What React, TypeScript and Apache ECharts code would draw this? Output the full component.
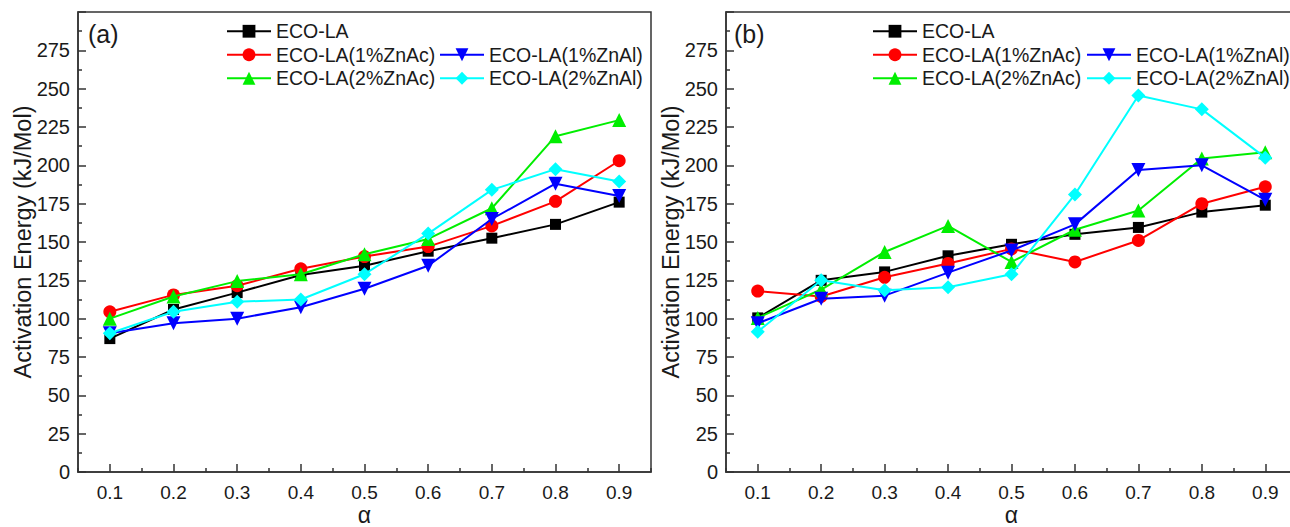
import React, { useEffect, useRef } from "react";
import * as echarts from "echarts";

const categories = ["0.1", "0.2", "0.3", "0.4", "0.5", "0.6", "0.7", "0.8", "0.9"];
const seriesNames = ["ECO-LA", "ECO-LA(1%ZnAc)", "ECO-LA(2%ZnAc)", "ECO-LA(1%ZnAl)", "ECO-LA(2%ZnAl)"];

// Panel (a)
const aEcoLA = [87, 106, 117, 128.5, 134.5, 144, 152.5, 161.5, 176];
const a1ZnAc = [104.5, 115.5, 121.5, 132.5, 140.5, 147, 160.5, 176.5, 203];
const a2ZnAc = [100, 114.5, 124.5, 129, 142, 152, 172, 219, 229.5];
const a1ZnAl = [90.5, 97, 100, 107.5, 119.5, 134.5, 165, 188, 180];
const a2ZnAl = [90.5, 104.5, 111, 112.5, 129, 155.5, 184, 197.5, 189.5];

// Panel (b)
const bEcoLA = [100.5, 125, 130.5, 141, 148.5, 155, 159.5, 169.5, 174];
const b1ZnAc = [118, 114.5, 127, 136, 145.5, 137, 151, 175, 186];
const b2ZnAc = [100.5, 119, 143.5, 160.5, 137, 158, 170.5, 204.5, 208.5];
const b1ZnAl = [97, 113, 115, 130, 144.5, 161.5, 197, 200, 177.5];
const b2ZnAl = [91.5, 125, 118.5, 120.5, 129, 181, 245.5, 236.5, 205];

const colors = ["#000000", "#ff0000", "#00ee00", "#0000ff", "#00ffff"];
const symbols = [
  "rect",
  "circle",
  "triangle",
  "path://M0,0 L10,0 L5,8.7 Z",
  "diamond",
];
const symbolSizes = [11, 13, 14, 14, 14];

const FONT = "'Liberation Sans', Arial, sans-serif";
const AXIS_COLOR = "#333";
const TEXT_COLOR = "#1a1a1a";

export default function App() {
  const ref = useRef<HTMLDivElement>(null);

  useEffect(() => {
    if (!ref.current) return;
    const chart = echarts.init(ref.current, undefined, { renderer: "svg" });

    const grids = [
      { left: 78, top: 12, width: 573, height: 460 },
      { left: 726, top: 12, width: 571, height: 460 },
    ];

    const panelData = [
      [aEcoLA, a1ZnAc, a2ZnAc, a1ZnAl, a2ZnAl],
      [bEcoLA, b1ZnAc, b2ZnAc, b1ZnAl, b2ZnAl],
    ];

    const xAxes: any[] = [];
    const yAxes: any[] = [];
    const series: any[] = [];
    const legends: any[] = [];

    grids.forEach((g, gi) => {
      xAxes.push({
        type: "category",
        gridIndex: gi,
        position: "bottom",
        data: categories,
        boundaryGap: true,
        name: "α",
        nameLocation: "middle",
        nameGap: 31,
        nameMoveOverlap: false,
        nameTextStyle: { fontSize: 23, color: TEXT_COLOR, fontFamily: FONT },
        axisLine: { show: true, lineStyle: { color: AXIS_COLOR, width: 1.5 } },
        axisTick: { show: true, inside: true, alignWithLabel: true, length: 8, lineStyle: { color: AXIS_COLOR, width: 1.5 } },
        axisLabel: { show: true, margin: 11, fontSize: 19, color: TEXT_COLOR, fontFamily: FONT },
        splitLine: { show: false },
      });
      xAxes.push({
        type: "category",
        gridIndex: gi,
        position: "bottom",
        data: categories,
        boundaryGap: true,
        axisLine: { show: false },
        axisTick: { show: true, inside: true, alignWithLabel: false, length: 4, lineStyle: { color: AXIS_COLOR, width: 1.5 } },
        axisLabel: { show: false },
        splitLine: { show: false },
      });
      yAxes.push({
        type: "value",
        gridIndex: gi,
        min: 0,
        max: 300,
        interval: 25,
        name: "Activation Energy (kJ/Mol)",
        nameLocation: "middle",
        nameGap: 43,
        nameMoveOverlap: false,
        nameTextStyle: { fontSize: 23.5, color: TEXT_COLOR, fontFamily: FONT },
        axisLine: { show: true, lineStyle: { color: AXIS_COLOR, width: 1.5 } },
        axisTick: { show: true, inside: true, length: 8, lineStyle: { color: AXIS_COLOR, width: 1.5 } },
        minorTick: { show: true, splitNumber: 2, length: 4, lineStyle: { color: AXIS_COLOR, width: 1.5 } },
        axisLabel: {
          show: true,
          margin: 8,
          fontSize: 20,
          color: TEXT_COLOR,
          fontFamily: FONT,
          formatter: (v: number) => (v >= 300 ? "" : String(v)),
        },
        splitLine: { show: false },
        minorSplitLine: { show: false },
      });

      seriesNames.forEach((name, si) => {
        series.push({
          type: "line",
          name,
          xAxisIndex: gi * 2,
          yAxisIndex: gi,
          data: panelData[gi][si],
          symbol: symbols[si],
          symbolSize: symbolSizes[si],
          showAllSymbol: true,
          lineStyle: { color: colors[si], width: 2 },
          itemStyle: { color: colors[si], borderWidth: 0 },
          z: 2 + si,
        });
      });
    });

    const legendBase = {
      orient: "vertical",
      selectedMode: false,
      itemWidth: 44,
      itemHeight: 16,
      itemGap: 0,
      padding: 0,
      textStyle: { fontSize: 19.5, lineHeight: 23.5, color: TEXT_COLOR, fontFamily: FONT },
    };
    const legendPos = [
      { col1: 226, col2: 439 },
      { col1: 872, col2: 1086 },
    ];
    legendPos.forEach((p) => {
      legends.push({ ...legendBase, left: p.col1, top: 19.5, data: [seriesNames[0], seriesNames[1], seriesNames[2]] });
      legends.push({ ...legendBase, left: p.col2, top: 43, data: [seriesNames[3], seriesNames[4]] });
    });

    chart.setOption({
      animation: false,
      backgroundColor: "#ffffff",
      grid: grids.map((g) => ({
        ...g,
        show: true,
        borderColor: AXIS_COLOR,
        borderWidth: 1.5,
        backgroundColor: "transparent",
        containLabel: false,
        outerBoundsMode: "none",
      })),
      xAxis: xAxes,
      yAxis: yAxes,
      legend: legends,
      series,
      graphic: [
        { type: "text", left: 88, top: 21, style: { text: "(a)", fontSize: 25, fill: TEXT_COLOR, fontFamily: FONT } },
        { type: "text", left: 734, top: 21, style: { text: "(b)", fontSize: 25, fill: TEXT_COLOR, fontFamily: FONT } },
      ],
    });

    return () => chart.dispose();
  }, []);

  return (
    <div
      ref={ref}
      style={{ position: "fixed", left: 0, top: 0, width: 1290, height: 527, background: "#fff" }}
    />
  );
}
